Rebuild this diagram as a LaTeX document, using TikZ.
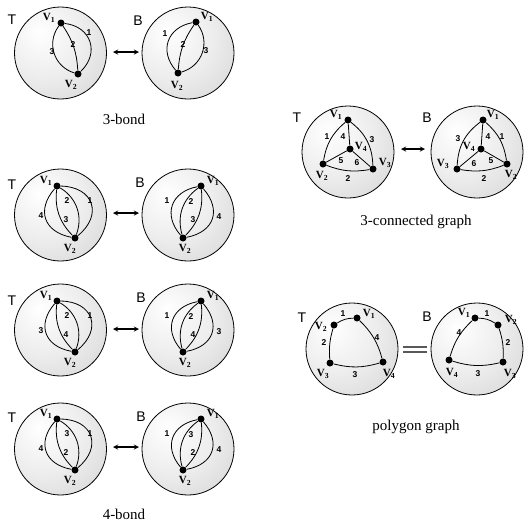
\documentclass[tikz,border=0pt]{standalone}
\usepackage{fontspec}
\setmainfont{Liberation Serif}
\setsansfont{Liberation Sans}
\usetikzlibrary{arrows,calc}

\pgfdeclareradialshading{spherefill}{\pgfpoint{-12bp}{12bp}}{%
  color(0bp)=(white); color(22bp)=(white!93!black); color(40bp)=(white!85!black);
  color(55bp)=(white!72!black); color(66bp)=(white!56!black); color(80bp)=(white!52!black)}

\newcommand{\vn}[1]{V\textsubscript{#1}}

\tikzset{
  ball/.style={draw=black,line width=0.8pt,shade,shading=spherefill},
  vtx/.style={circle,fill=black,inner sep=0pt,minimum size=7pt},
  vlab/.style={font=\bfseries\fontsize{11}{11}\selectfont,inner sep=0pt},
  elab/.style={font=\sffamily\bfseries\fontsize{8.5}{8.5}\selectfont,inner sep=0pt},
  sidelab/.style={font=\sffamily\fontsize{14}{14}\selectfont,inner sep=0pt},
  captxt/.style={font=\fontsize{15}{15}\selectfont,inner sep=0pt},
  gedge/.style={line width=0.8pt},
  flip/.style={<->,>=stealth,line width=1.3pt},
}

\begin{document}
\begin{tikzpicture}[x=1pt,y=-1pt]
  \useasboundingbox (0,0) rectangle (523,525);

  % spheres
  \foreach \cy in {53,215,330,449}{
    \draw[ball] (60.5,\cy) circle (46pt);
    \draw[ball] (188,\cy) circle (46pt);
  }
  \draw[ball] (348,152) circle (46pt);
  \draw[ball] (477,152) circle (46pt);
  \draw[ball] (352,349) circle (46pt);
  \draw[ball] (477,349) circle (46pt);

  % swap arrows
  \foreach \i/\y in {1/52,2/213,3/329,4/447}{
    \coordinate (al\i) at (113,\y);
    \coordinate (ar\i) at (139,\y);
    \draw[flip] (al\i) -- (ar\i);
  }
  \coordinate (al5) at (401,149);
  \coordinate (ar5) at (425,149);
  \draw[flip] (al5) -- (ar5);
  \coordinate (eq1) at (403,347);
  \coordinate (eq2) at (427,347);
  \coordinate (eq3) at (403,352);
  \coordinate (eq4) at (427,352);
  \draw[gray!70!black,line width=1.6pt] (eq1) -- (eq2);
  \draw[gray!70!black,line width=1.6pt] (eq3) -- (eq4);

  % side labels
  \foreach \n/\s/\x/\y in {t1/T/12/20,b1/B/138/21,t2/T/12/185,b2/B/140/183,
      t3/T/12/301,b3/B/141/298,t4/T/12/418,b4/B/141/417,
      t5/T/297/118,b5/B/427/118,t6/T/302/318,b6/B/427/317}
    \node[sidelab] (s\n) at (\x,\y) {\s};

  % 3-bond
  \node[vtx] (t1a) at (61,23) {};
  \node[vtx] (t1b) at (78,74) {};
  \draw[gedge] (t1a) to[bend right=55,looseness=1.1] (t1b);
  \draw[gedge] (t1a) to[bend left=15] (t1b);
  \draw[gedge] (t1a) to[bend left=65,looseness=1.35] (t1b);
  \node[vlab] (t1la) at (49,18) {\vn1};
  \node[vlab] (t1lb) at (71,85) {\vn2};
  \node[elab] (t1e1) at (89,33) {1};
  \node[elab] (t1e2) at (73,45) {2};
  \node[elab] (t1e3) at (52,52) {3};

  \node[vtx] (b1a) at (196,22) {};
  \node[vtx] (b1b) at (178,73) {};
  \draw[gedge] (b1a) to[bend right=60,looseness=1.3] (b1b);
  \draw[gedge] (b1a) to[bend right=15] (b1b);
  \draw[gedge] (b1a) to[bend left=55,looseness=1.1] (b1b);
  \node[vlab] (b1la) at (207,17) {\vn1};
  \node[vlab] (b1lb) at (177,86) {\vn2};
  \node[elab] (b1e1) at (165,34) {1};
  \node[elab] (b1e2) at (183,45) {2};
  \node[elab] (b1e3) at (206,51) {3};

  % 4-bond, three embeddings
  \foreach \r/\ya/\yb/\la/\lb/\lc/\ld in {2/186/238/4/2/3/1,3/301/352/3/2/4/1,4/419/470/4/3/2/1}{
    \node[vtx] (t\r a) at (57,\ya) {};
    \node[vtx] (t\r b) at (75,\yb) {};
    \draw[gedge] (t\r a) to[bend right=60,looseness=1.4] (t\r b);
    \draw[gedge] (t\r a) to[bend right=25] (t\r b);
    \draw[gedge] (t\r a) to[bend left=40] (t\r b);
    \draw[gedge] (t\r a) to[bend left=70,looseness=1.6] (t\r b);
    \node[vlab] (t\r la) at ($(t\r a)+(-11,-5)$) {\vn1};
    \node[vlab] (t\r lb) at ($(t\r b)+(-5,11)$) {\vn2};
    \node[elab] (t\r e1) at ($(t\r a)+(-16,30)$) {\la};
    \node[elab] (t\r e2) at ($(t\r a)+(10,15)$) {\lb};
    \node[elab] (t\r e3) at ($(t\r a)+(9,34)$) {\lc};
    \node[elab] (t\r e4) at ($(t\r a)+(33,15)$) {\ld};

    \node[vtx] (b\r a) at (201,\ya) {};
    \node[vtx] (b\r b) at (183,\yb) {};
    \draw[gedge] (b\r a) to[bend right=60,looseness=1.35] (b\r b);
    \draw[gedge] (b\r a) to[bend right=35] (b\r b);
    \draw[gedge] (b\r a) to[bend left=25] (b\r b);
    \draw[gedge] (b\r a) to[bend left=60,looseness=1.4] (b\r b);
    \node[vlab] (b\r la) at ($(b\r a)+(12,-5)$) {\vn1};
    \node[vlab] (b\r lb) at ($(b\r b)+(2,11)$) {\vn2};
    \node[elab] (b\r e1) at ($(b\r a)+(-34,15)$) {\ld};
    \node[elab] (b\r e2) at ($(b\r a)+(-10,16)$) {\lb};
    \node[elab] (b\r e3) at ($(b\r a)+(-8,34)$) {\lc};
    \node[elab] (b\r e4) at ($(b\r a)+(18,31)$) {\la};
  }

  % 3-connected graph
  \node[vtx] (t5a) at (348,120) {};
  \node[vtx] (t5b) at (323,164) {};
  \node[vtx] (t5c) at (373,169) {};
  \node[vtx] (t5d) at (350,149) {};
  \draw[gedge] (t5a) to[bend right=20] (t5b);
  \draw[gedge] (t5a) to[bend left=25] (t5c);
  \draw[gedge] (t5b) to[bend right=15] (t5c);
  \draw[gedge] (t5a) -- (t5d);
  \draw[gedge] (t5b) -- (t5d);
  \draw[gedge] (t5d) -- (t5c);
  \node[vlab] (t5la) at (336,115) {\vn1};
  \node[vlab] (t5lb) at (322,176) {\vn2};
  \node[vlab] (t5lc) at (385,163) {\vn3};
  \node[vlab] (t5ld) at (361,147) {\vn4};
  \node[elab] (t5e1) at (327,137) {1};
  \node[elab] (t5e2) at (348,179) {2};
  \node[elab] (t5e3) at (372,140) {3};
  \node[elab] (t5e4) at (343,137) {4};
  \node[elab] (t5e5) at (341,161) {5};
  \node[elab] (t5e6) at (357,163) {6};

  \node[vtx] (b5a) at (483,120) {};
  \node[vtx] (b5b) at (507,164) {};
  \node[vtx] (b5c) at (457,169) {};
  \node[vtx] (b5d) at (481,149) {};
  \draw[gedge] (b5a) to[bend left=20] (b5b);
  \draw[gedge] (b5a) to[bend right=25] (b5c);
  \draw[gedge] (b5c) to[bend right=15] (b5b);
  \draw[gedge] (b5a) -- (b5d);
  \draw[gedge] (b5c) -- (b5d);
  \draw[gedge] (b5d) -- (b5b);
  \node[vlab] (b5la) at (493,115) {\vn1};
  \node[vlab] (b5lb) at (511,175) {\vn2};
  \node[vlab] (b5lc) at (443,164) {\vn3};
  \node[vlab] (b5ld) at (469,147) {\vn4};
  \node[elab] (b5e1) at (502,137) {1};
  \node[elab] (b5e2) at (484,179) {2};
  \node[elab] (b5e3) at (458,139) {3};
  \node[elab] (b5e4) at (488,137) {4};
  \node[elab] (b5e5) at (491,161) {5};
  \node[elab] (b5e6) at (474,164) {6};

  % polygon graph
  \node[vtx] (t6a) at (357,318) {};
  \node[vtx] (t6b) at (334,325) {};
  \node[vtx] (t6c) at (330,363) {};
  \node[vtx] (t6d) at (383,362) {};
  \draw[gedge] (t6b) to[bend left=15] (t6a);
  \draw[gedge] (t6b) to[bend right=10] (t6c);
  \draw[gedge] (t6c) to[bend right=15] (t6d);
  \draw[gedge] (t6a) to[bend left=15] (t6d);
  \node[vlab] (t6la) at (369,314) {\vn1};
  \node[vlab] (t6lb) at (321,327) {\vn2};
  \node[vlab] (t6lc) at (323,374) {\vn3};
  \node[vlab] (t6ld) at (389,374) {\vn4};
  \node[elab] (t6e1) at (343,314) {1};
  \node[elab] (t6e2) at (324,343) {2};
  \node[elab] (t6e3) at (355,375) {3};
  \node[elab] (t6e4) at (377,338) {4};

  \node[vtx] (b6a) at (475,318) {};
  \node[vtx] (b6b) at (498,325) {};
  \node[vtx] (b6c) at (503,362) {};
  \node[vtx] (b6d) at (449,360) {};
  \draw[gedge] (b6a) to[bend left=15] (b6b);
  \draw[gedge] (b6b) to[bend left=10] (b6c);
  \draw[gedge] (b6d) to[bend right=15] (b6c);
  \draw[gedge] (b6a) to[bend right=15] (b6d);
  \node[vlab] (b6la) at (464,313) {\vn1};
  \node[vlab] (b6lb) at (511,320) {\vn2};
  \node[vlab] (b6lc) at (510,374) {\vn3};
  \node[vlab] (b6ld) at (452,373) {\vn4};
  \node[elab] (b6e1) at (487,314) {1};
  \node[elab] (b6e2) at (508,343) {2};
  \node[elab] (b6e3) at (478,374) {3};
  \node[elab] (b6e4) at (459,333) {4};

  % captions
  \node[captxt] (cap1) at (124,119) {3-bond};
  \node[captxt] (cap2) at (124,514) {4-bond};
  \node[captxt] (cap3) at (416,222) {3-connected graph};
  \node[captxt] (cap4) at (416,427) {polygon graph};
\end{tikzpicture}
\end{document}
